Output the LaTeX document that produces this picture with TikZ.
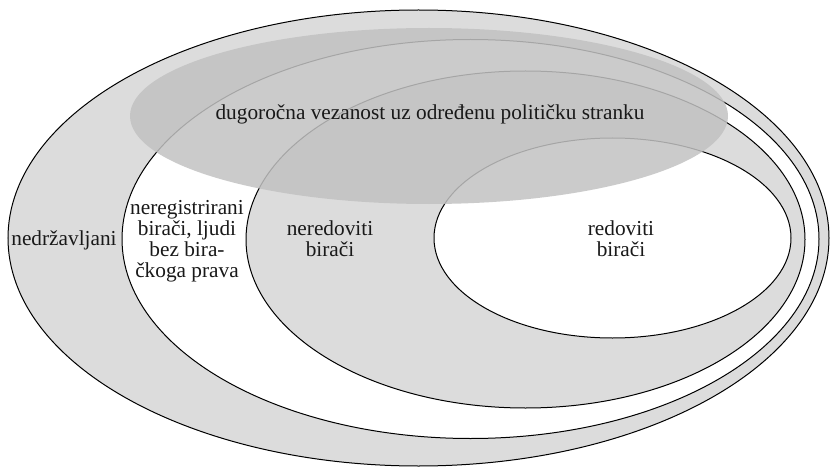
\documentclass[tikz,border=0pt]{standalone}
\usepackage{fontspec}
\setmainfont{Liberation Serif}
\definecolor{ringgray}{HTML}{DCDCDC}
\definecolor{hatchgray}{HTML}{C2C2C2}
\tikzset{
  ringline/.style={draw=black, line width=1pt},
  lbl/.style={font=\fontsize{21.3}{21}\selectfont, align=center, inner sep=0pt, text=black!90},
}
\begin{document}
\begin{tikzpicture}[x=1pt,y=-1pt]
\useasboundingbox (0,0) rectangle (830,468);
% fills
\fill[ringgray] (418.5,238) ellipse [x radius=410.5pt, y radius=228pt];
\fill[white] (470.5,239) ellipse [x radius=348.5pt, y radius=199.5pt];
\fill[ringgray] (525.5,239.5) ellipse [x radius=279.5pt, y radius=168.5pt];
\fill[white] (612.5,238) ellipse [x radius=178.5pt, y radius=100pt];
% outlines
\draw[ringline] (418.5,238) ellipse [x radius=410.5pt, y radius=228pt];
\draw[ringline] (470.5,239) ellipse [x radius=348.5pt, y radius=199.5pt];
\draw[ringline] (525.5,239.5) ellipse [x radius=279.5pt, y radius=168.5pt];
\draw[ringline] (612.5,238) ellipse [x radius=178.5pt, y radius=100pt];
% long-term party attachment
\fill[hatchgray, opacity=0.85] (429,116) ellipse [x radius=299pt, y radius=88pt];
% labels
\node[lbl] (party) at (430,114) {dugoročna vezanost uz određenu političku stranku};
\node[lbl] (foreign) at (64,240) {nedržavljani};
\node[lbl] (unreg) at (187,241) {neregistrirani\\birači, ljudi\\bez bira-\\čkoga prava};
\node[lbl] (irreg) at (330,239) {neredoviti\\birači};
\node[lbl] (reg) at (621,239) {redoviti\\birači};
\end{tikzpicture}
\end{document}
